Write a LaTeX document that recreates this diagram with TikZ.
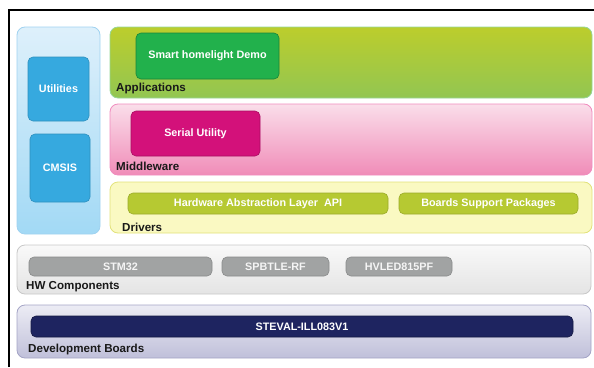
\documentclass[tikz,border=0pt]{standalone}
\usepackage{fontspec}
\setmainfont{Liberation Sans}
\definecolor{utiltop}{RGB}{222,240,251}
\definecolor{utilbot}{RGB}{162,217,245}
\definecolor{utilline}{RGB}{160,210,240}
\definecolor{utilbox}{RGB}{54,169,223}
\definecolor{apptop}{RGB}{188,205,44}
\definecolor{appbot}{RGB}{146,198,82}
\definecolor{appline}{RGB}{150,214,150}
\definecolor{demobox}{RGB}{34,177,76}
\definecolor{midtop}{RGB}{250,222,234}
\definecolor{midbot}{RGB}{240,140,184}
\definecolor{midline}{RGB}{240,140,190}
\definecolor{serialbox}{RGB}{211,17,122}
\definecolor{drvfill}{RGB}{250,249,194}
\definecolor{drvline}{RGB}{226,226,122}
\definecolor{halbox}{RGB}{182,201,50}
\definecolor{hwtop}{RGB}{249,249,249}
\definecolor{hwbot}{RGB}{228,228,228}
\definecolor{hwline}{RGB}{200,200,200}
\definecolor{hwbox}{RGB}{161,163,163}
\definecolor{devtop}{RGB}{236,236,244}
\definecolor{devbot}{RGB}{192,192,218}
\definecolor{devline}{RGB}{164,164,198}
\definecolor{stevalbox}{RGB}{30,36,96}

\begin{document}
\begin{tikzpicture}[x=1pt, y=-1pt,
    layer/.style={rectangle, draw, rounded corners=8pt, line width=0.8pt},
    block/.style={rectangle, draw, rounded corners=5pt, line width=0.6pt, text=white, font=\bfseries\fontsize{10.8}{12}\selectfont},
    title/.style={anchor=west, inner sep=0pt, text=black!90, font=\bfseries\fontsize{11.6}{13}\selectfont}
]
    \useasboundingbox (0,0) rectangle (594,367);
    \draw[line width=1.5pt] (9,367) -- (9,10) -- (594,10);

    % layers
    \node[layer, draw=utilline, top color=utiltop, bottom color=utilbot, minimum width=83, minimum height=207] (util) at (58.5,130.5) {};
    \node[layer, draw=appline, top color=apptop, bottom color=appbot, minimum width=482, minimum height=71] (apps) at (351,62.5) {};
    \node[layer, draw=midline, top color=midtop, bottom color=midbot, minimum width=482, minimum height=71] (mid) at (351,139.5) {};
    \node[layer, draw=drvline, fill=drvfill, minimum width=482, minimum height=51] (drv) at (351,207.5) {};
    \node[layer, draw=hwline, top color=hwtop, bottom color=hwbot, minimum width=574, minimum height=49] (hw) at (304,269.5) {};
    \node[layer, draw=devline, top color=devtop, bottom color=devbot, minimum width=574, minimum height=53] (dev) at (304,331.5) {};

    % blocks
    \node[block, draw=utilbox!85!black, fill=utilbox, minimum width=61, minimum height=64] (utilities) at (58.5,89) {Utilities};
    \node[block, draw=utilbox!85!black, fill=utilbox, minimum width=60, minimum height=68] (cmsis) at (60,168) {CMSIS};
    \node[block, draw=demobox!75!black, fill=demobox, minimum width=143, minimum height=46] (demo) at (207.5,56) {Smart homelight Demo};
    \node[block, draw=serialbox!80!black, fill=serialbox, minimum width=129, minimum height=45] (serial) at (195.5,133.5) {Serial Utility};
    \node[block, draw=halbox!85!black, fill=halbox, minimum width=260, minimum height=21] (hal) at (258,203.5) {Hardware Abstraction Layer\ \ API};
    \node[block, draw=halbox!85!black, fill=halbox, minimum width=179, minimum height=21] (bsp) at (488.5,203.5) {Boards Support Packages};
    \node[block, draw=hwbox!85!black, fill=hwbox, text=white!92!gray, minimum width=183, minimum height=19] (stm) at (120.5,266.5) {STM32};
    \node[block, draw=hwbox!85!black, fill=hwbox, text=white!92!gray, minimum width=107, minimum height=19] (spbtle) at (275.5,266.5) {SPBTLE-RF};
    \node[block, draw=hwbox!85!black, fill=hwbox, text=white!92!gray, minimum width=106, minimum height=19] (hvled) at (399,266.5) {HVLED815PF};
    \node[block, draw=stevalbox!70!black, fill=stevalbox, minimum width=542, minimum height=21] (steval) at (302,326.5) {STEVAL-ILL083V1};

    % titles
    \node[title] (appstitle) at (116,88) {Applications};
    \node[title] (midtitle) at (116,166) {Middleware};
    \node[title] (drvtitle) at (122,227) {Drivers};
    \node[title] (hwtitle) at (26,287) {HW Components};
    \node[title] (devtitle) at (28,349) {Development Boards};
\end{tikzpicture}
\end{document}
